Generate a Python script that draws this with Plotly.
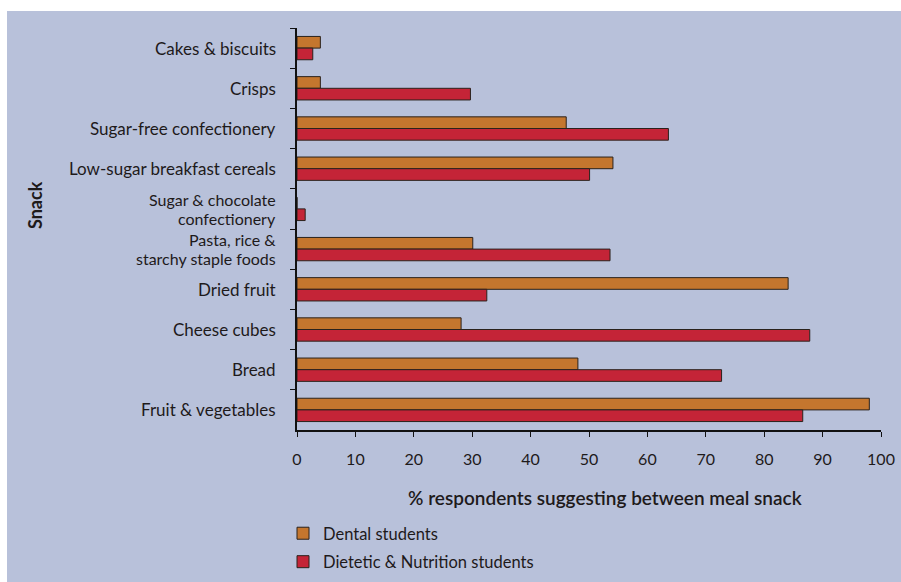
import plotly.graph_objects as go

# Snack categories, listed top to bottom ("<br>" marks a line break in the label)
snacks = [
    "Cakes & biscuits",
    "Crisps",
    "Sugar-free confectionery",
    "Low-sugar breakfast cereals",
    "Sugar & chocolate<br>confectionery",
    "Pasta, rice &<br>starchy staple foods",
    "Dried fruit",
    "Cheese cubes",
    "Bread",
    "Fruit & vegetables",
]

# % respondents suggesting each between-meal snack
dental = [4.0, 4.0, 46.1, 54.1, 0.0, 30.1, 84.1, 28.1, 48.1, 98.0]
dietetic = [2.7, 29.7, 63.6, 50.1, 1.4, 53.6, 32.5, 87.8, 72.7, 86.6]

x_ticks = list(range(0, 101, 10))

PANEL = "#B8C1DA"
PLOT_BG = "#E3C479"
ORANGE = "#C4762E"
RED = "#C42437"
INK = "#1E1A1A"
FONT = "Lato"

W, H = 901, 582
L, R, T, B = 297, 20, 28, 152
pw, ph = W - L - R, H - T - B

LABEL_SIZE = 17        # single-line category labels
WRAP_SIZE = 16         # two-line category labels
LINE_GAP = 19.5        # spacing between the two lines of a wrapped label


def px_x(x):
    return (x - L) / pw


def px_y(y):
    return (H - B - y) / ph


fig = go.Figure()
fig.add_trace(go.Bar(
    y=snacks, x=dental, orientation="h", name="Dental students",
    legendgroup="dental",
    marker=dict(color=ORANGE, line=dict(color="#2A221C", width=1)),
))
fig.add_trace(go.Bar(
    y=snacks, x=dietetic, orientation="h", name="Dietetic & Nutrition students",
    legendgroup="dietetic",
    marker=dict(color=RED, line=dict(color="#2A221C", width=1)),
))

# Category labels, one annotation per line so wrapped labels stay compact
label_annotations = []
for name in snacks:
    lines = name.split("<br>")
    n = len(lines)
    size = LABEL_SIZE if n == 1 else WRAP_SIZE
    for i, line in enumerate(lines):
        shift = ((n - 1) / 2 - i) * LINE_GAP
        label_annotations.append(dict(
            text=line, xref="paper", yref="y", x=0, y=name,
            xanchor="right", yanchor="middle", xshift=-19, yshift=shift,
            showarrow=False, font=dict(size=size, color=INK),
        ))

fig.update_layout(
    width=W, height=H,
    margin=dict(l=L, r=R, t=T, b=B, autoexpand=False),
    paper_bgcolor="white",
    plot_bgcolor=PLOT_BG,
    barmode="group",
    bargap=0.42,
    bargroupgap=0,
    font=dict(family=FONT, size=16, color=INK),
    showlegend=True,
    legend=dict(
        x=px_x(283), y=px_y(516), xanchor="left", yanchor="top",
        bgcolor="rgba(0,0,0,0)", font=dict(size=16.5, color=INK),
        traceorder="grouped", tracegroupgap=4, itemwidth=30,
    ),
    xaxis=dict(
        range=[0, 100], tickvals=x_ticks, ticktext=[str(v) for v in x_ticks],
        showgrid=False, zeroline=False,
        showline=True, linecolor="#111111", linewidth=1.5,
        ticks="outside", ticklen=5, tickcolor="#111111", tickwidth=1.2,
        tickfont=dict(size=16, color=INK), ticklabelstandoff=9,
        fixedrange=True,
    ),
    yaxis=dict(
        categoryorder="array", categoryarray=snacks, autorange="reversed",
        showgrid=False, zeroline=False,
        showline=True, linecolor="#111111", linewidth=1.5,
        ticks="outside", ticklen=5, tickcolor="#111111", tickwidth=1.2,
        tickson="boundaries", showticklabels=False,
        fixedrange=True,
    ),
    shapes=[
        # blue-grey figure panel, inset from the top and left page edges
        dict(type="rect", xref="paper", yref="paper", layer="below",
             x0=px_x(7), x1=px_x(W), y0=px_y(H), y1=px_y(11),
             fillcolor=PANEL, line=dict(width=0)),
    ],
    annotations=label_annotations + [
        dict(text="% respondents suggesting between meal snack",
             xref="paper", yref="paper", x=px_x(605), y=px_y(497),
             xanchor="center", yanchor="middle", showarrow=False,
             font=dict(size=19, color=INK, weight=600)),
        dict(text="Snack", textangle=-90,
             xref="paper", yref="paper", x=px_x(35), y=px_y(205),
             xanchor="center", yanchor="middle", showarrow=False,
             font=dict(size=18, color=INK, weight=700)),
    ],
)

fig.write_html("out.html")
